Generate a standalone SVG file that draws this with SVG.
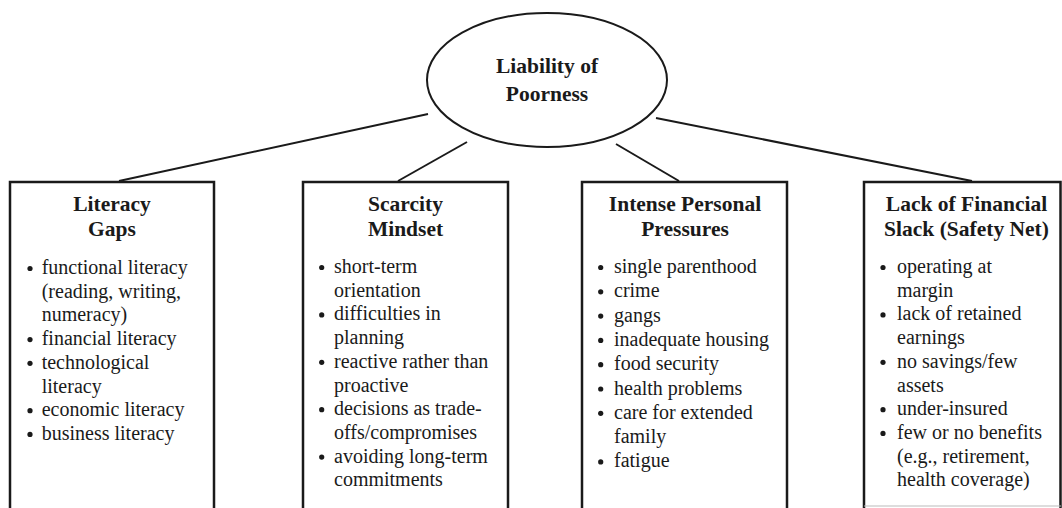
<svg xmlns="http://www.w3.org/2000/svg" width="1062" height="508" viewBox="0 0 1062 508">
<style>
.box{fill:#fff;stroke:#1a1a1a;stroke-width:2.5}
.conn{stroke:#1a1a1a;stroke-width:2;fill:none}
.title{font-family:"Liberation Serif","Times New Roman",serif;font-weight:bold;font-size:21.5px;fill:#1a1a1a;text-anchor:middle}
.body{font-family:"Liberation Serif","Times New Roman",serif;font-size:20px;fill:#1a1a1a}
.dot{fill:#1a1a1a}
</style>
<rect width="1062" height="508" fill="#fff"/>
<g id="connectors">
<line class="conn" x1="428" y1="114" x2="119" y2="181"/>
<line class="conn" x1="467" y1="142" x2="398" y2="181"/>
<line class="conn" x1="616" y1="144" x2="679" y2="181"/>
<line class="conn" x1="656" y1="118" x2="972" y2="181"/>
</g>
<g id="root">
<ellipse cx="547" cy="80" rx="120" ry="67" fill="#fff" stroke="#1a1a1a" stroke-width="2"/>
<text class="title"><tspan x="547" y="73">Liability of</tspan><tspan x="547" y="101">Poorness</tspan></text>
</g>
<g id="literacy-gaps">
<rect class="box" x="10" y="182" width="204" height="340"/>
<text class="title"><tspan x="112" y="211">Literacy</tspan><tspan x="112" y="236">Gaps</tspan></text>
<text class="body">
<tspan x="41.7" y="274">functional literacy</tspan>
<tspan x="41.7" y="297.7">(reading, writing,</tspan>
<tspan x="41.7" y="321.4">numeracy)</tspan>
<tspan x="41.7" y="345.1">financial literacy</tspan>
<tspan x="41.7" y="368.8">technological</tspan>
<tspan x="41.7" y="392.5">literacy</tspan>
<tspan x="41.7" y="416.2">economic literacy</tspan>
<tspan x="41.7" y="439.9">business literacy</tspan>
</text>
<circle class="dot" cx="30" cy="268.5" r="2.6"/>
<circle class="dot" cx="30" cy="339.6" r="2.6"/>
<circle class="dot" cx="30" cy="363.3" r="2.6"/>
<circle class="dot" cx="30" cy="410.7" r="2.6"/>
<circle class="dot" cx="30" cy="434.4" r="2.6"/>
</g>
<g id="scarcity-mindset">
<rect class="box" x="303" y="182" width="205" height="340"/>
<text class="title"><tspan x="405.5" y="211">Scarcity</tspan><tspan x="405.5" y="236">Mindset</tspan></text>
<text class="body">
<tspan x="334" y="273">short-term</tspan>
<tspan x="334" y="296.7">orientation</tspan>
<tspan x="334" y="320.4">difficulties in</tspan>
<tspan x="334" y="344.1">planning</tspan>
<tspan x="334" y="367.8">reactive rather than</tspan>
<tspan x="334" y="391.5">proactive</tspan>
<tspan x="334" y="415.2">decisions as trade-</tspan>
<tspan x="334" y="438.9">offs/compromises</tspan>
<tspan x="334" y="462.6">avoiding long-term</tspan>
<tspan x="334" y="486.3">commitments</tspan>
</text>
<circle class="dot" cx="321.7" cy="267.5" r="2.6"/>
<circle class="dot" cx="321.7" cy="314.9" r="2.6"/>
<circle class="dot" cx="321.7" cy="362.3" r="2.6"/>
<circle class="dot" cx="321.7" cy="409.7" r="2.6"/>
<circle class="dot" cx="321.7" cy="457.1" r="2.6"/>
</g>
<g id="intense-personal-pressures">
<rect class="box" x="582" y="182" width="205" height="340"/>
<text class="title"><tspan x="685" y="211">Intense Personal</tspan><tspan x="685" y="236">Pressures</tspan></text>
<text class="body">
<tspan x="614" y="273">single parenthood</tspan>
<tspan x="614" y="297.3">crime</tspan>
<tspan x="614" y="321.6">gangs</tspan>
<tspan x="614" y="345.9">inadequate housing</tspan>
<tspan x="614" y="370.2">food security</tspan>
<tspan x="614" y="394.5">health problems</tspan>
<tspan x="614" y="418.8">care for extended</tspan>
<tspan x="614" y="443.1">family</tspan>
<tspan x="614" y="467.4">fatigue</tspan>
</text>
<circle class="dot" cx="600.7" cy="267.5" r="2.6"/>
<circle class="dot" cx="600.7" cy="291.8" r="2.6"/>
<circle class="dot" cx="600.7" cy="316.1" r="2.6"/>
<circle class="dot" cx="600.7" cy="340.4" r="2.6"/>
<circle class="dot" cx="600.7" cy="364.7" r="2.6"/>
<circle class="dot" cx="600.7" cy="389" r="2.6"/>
<circle class="dot" cx="600.7" cy="413.3" r="2.6"/>
<circle class="dot" cx="600.7" cy="461.9" r="2.6"/>
</g>
<g id="lack-of-financial-slack">
<rect class="box" x="864" y="182" width="196.5" height="340"/>
<line x1="864" y1="506" x2="1061" y2="506" stroke="#bbb" stroke-width="1"/>
<text class="title"><tspan x="966.5" y="211">Lack of Financial</tspan><tspan x="966.5" y="236">Slack (Safety Net)</tspan></text>
<text class="body">
<tspan x="897" y="273">operating at</tspan>
<tspan x="897" y="296.7">margin</tspan>
<tspan x="897" y="320.4">lack of retained</tspan>
<tspan x="897" y="344.1">earnings</tspan>
<tspan x="897" y="367.8">no savings/few</tspan>
<tspan x="897" y="391.5">assets</tspan>
<tspan x="897" y="415.2">under-insured</tspan>
<tspan x="897" y="438.9">few or no benefits</tspan>
<tspan x="897" y="462.6">(e.g., retirement,</tspan>
<tspan x="897" y="486.3">health coverage)</tspan>
</text>
<circle class="dot" cx="883" cy="267.5" r="2.6"/>
<circle class="dot" cx="883" cy="314.9" r="2.6"/>
<circle class="dot" cx="883" cy="362.3" r="2.6"/>
<circle class="dot" cx="883" cy="409.7" r="2.6"/>
<circle class="dot" cx="883" cy="433.4" r="2.6"/>
</g>
</svg>
